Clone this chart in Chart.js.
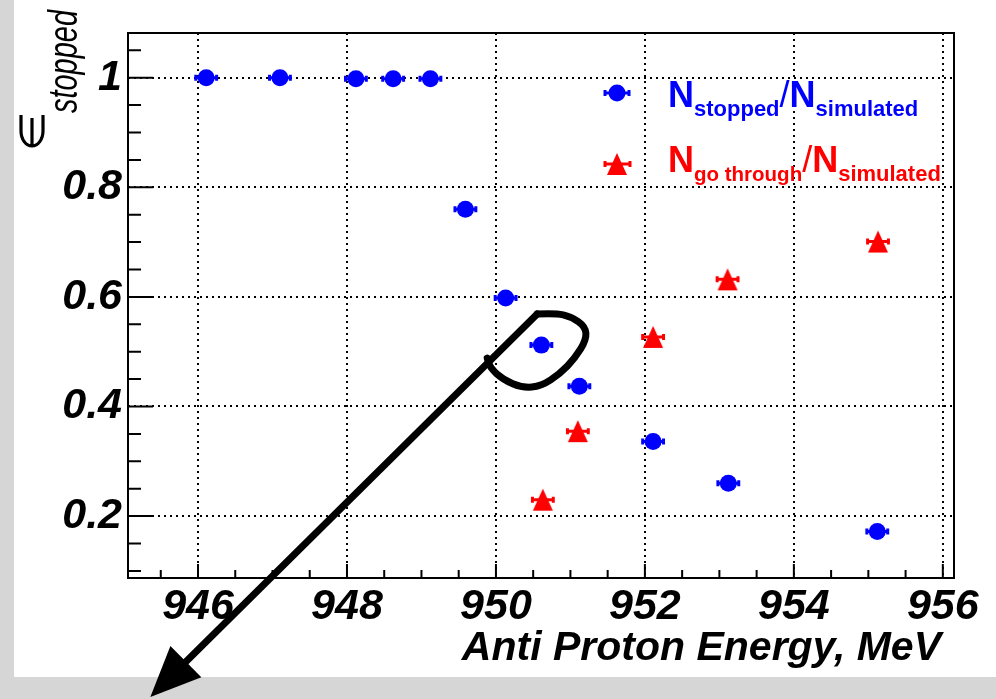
<!DOCTYPE html>
<html>
<head>
<meta charset="utf-8">
<script src="https://cdn.jsdelivr.net/npm/chart.js@4.4.1/dist/chart.umd.min.js"></script>
<style>
  html, body { margin: 0; padding: 0; background: #d6d6d6; }
  canvas { display: block; }
</style>
</head>
<body>
<canvas id="chart" width="996" height="699"></canvas>
<script>
// N_stopped / N_simulated
const energyStopped = [946.11, 947.10, 948.12, 948.62, 949.12, 949.59, 950.13, 950.61, 951.12, 952.11, 953.12, 955.12];
const fracStopped = [1.0, 1.0, 0.998, 0.998, 0.998, 0.760, 0.598, 0.512, 0.437, 0.336, 0.260, 0.172];
const errStopped = [0.14, 0.14, 0.14, 0.14, 0.14, 0.14, 0.14, 0.14, 0.14, 0.14, 0.14, 0.14];

// N_go through / N_simulated
const energyThrough = [950.63, 951.10, 952.11, 953.11, 955.13];
const fracThrough = [0.230, 0.355, 0.527, 0.632, 0.701];
const errThrough = [0.14, 0.14, 0.14, 0.14, 0.14];

const xTicks = [946, 948, 950, 952, 954, 956];
const yTicks = [0.2, 0.4, 0.6, 0.8, 1];
const yTickLabels = ['0.2', '0.4', '0.6', '0.8', '1'];

// hand drawn lasso + arrow, in data units
const loopX = [950.554, 950.796, 951.010, 951.200, 951.215, 951.060, 950.860, 950.610, 950.353, 950.098, 949.924, 949.883];
const loopY = [0.5688, 0.5706, 0.5640, 0.5460, 0.5220, 0.4880, 0.4600, 0.4370, 0.4340, 0.4490, 0.4703, 0.4883];
const arrowTail = [950.554, 0.5688];
const arrowTip = [945.36, -0.130];

const BLUE = '#0000ff';
const RED = '#ff0000';
const FONT = '"Liberation Sans", Arial, sans-serif';

function toPts(xs, ys) {
    return xs.map((x, i) => ({ x: x, y: ys[i] }));
}

// ROOT style full triangle marker
function makeTriangle(color) {
    const c = document.createElement('canvas');
    c.width = 22;
    c.height = 24;
    const g = c.getContext('2d');
    g.fillStyle = color;
    g.beginPath();
    g.moveTo(11, 1);
    g.lineTo(21, 23);
    g.lineTo(1, 23);
    g.closePath();
    g.fill();
    return c;
}
const redTriangle = makeTriangle(RED);

function drawXErrors(ctx, chart, xs, ys, errs, color) {
    const sx = chart.scales.x;
    const sy = chart.scales.y;
    ctx.save();
    ctx.strokeStyle = color;
    ctx.lineWidth = 3;
    xs.forEach((x, i) => {
        const y = sy.getPixelForValue(ys[i]);
        const x0 = sx.getPixelForValue(x - errs[i]);
        const x1 = sx.getPixelForValue(x + errs[i]);
        ctx.beginPath();
        ctx.moveTo(x0, y); ctx.lineTo(x1, y);
        ctx.moveTo(x0, y - 3); ctx.lineTo(x0, y + 3);
        ctx.moveTo(x1, y - 3); ctx.lineTo(x1, y + 3);
        ctx.stroke();
    });
    ctx.restore();
}

// draws a run of text pieces, each {t, font, dy}
function drawPieces(ctx, x, y, pieces, color) {
    ctx.fillStyle = color;
    ctx.textAlign = 'left';
    ctx.textBaseline = 'alphabetic';
    pieces.forEach(p => {
        ctx.font = p.font;
        ctx.fillText(p.t, x, y + (p.dy || 0));
        x += ctx.measureText(p.t).width;
    });
}

const framePlugin = {
    id: 'frame',
    beforeDraw(chart) {
        const ctx = chart.ctx;
        ctx.save();
        ctx.fillStyle = '#d6d6d6';
        ctx.fillRect(0, 0, chart.width, chart.height);
        ctx.fillStyle = '#ffffff';
        ctx.fillRect(14, 0, chart.width - 14, 677);
        ctx.restore();
    },
    beforeDatasetsDraw(chart) {
        const ctx = chart.ctx;
        const a = chart.chartArea;
        const sx = chart.scales.x;
        const sy = chart.scales.y;
        ctx.save();
        ctx.strokeStyle = '#000';
        ctx.lineWidth = 2;
        ctx.strokeRect(a.left, a.top, a.right - a.left, a.bottom - a.top);

        // ticks inside the frame
        ctx.beginPath();
        for (let v = Math.ceil(sx.min * 2) / 2; v <= sx.max; v += 0.5) {
            const px = sx.getPixelForValue(v);
            const len = Math.abs(v / 2 - Math.round(v / 2)) < 1e-6 ? 14 : 8;
            ctx.moveTo(px, a.bottom);
            ctx.lineTo(px, a.bottom - len);
        }
        for (let k = Math.ceil(sy.min * 20); k <= Math.floor(sy.max * 20); k++) {
            const py = sy.getPixelForValue(k / 20);
            const len = k % 4 === 0 ? 25 : 13;
            ctx.moveTo(a.left, py);
            ctx.lineTo(a.left + len, py);
        }
        ctx.stroke();
        ctx.restore();

        drawXErrors(ctx, chart, energyStopped, fracStopped, errStopped, BLUE);
        drawXErrors(ctx, chart, energyThrough, fracThrough, errThrough, RED);
    },
    afterDraw(chart) {
        const ctx = chart.ctx;
        const sx = chart.scales.x;
        const sy = chart.scales.y;
        ctx.save();

        // legend
        const big = 'bold 36px ' + FONT;
        const slash = '36px ' + FONT;
        const sub = 'bold 22px ' + FONT;
        const subSmall = 'bold 20.5px ' + FONT;
        ctx.lineWidth = 3;
        ctx.strokeStyle = BLUE;
        ctx.beginPath();
        ctx.moveTo(605, 93); ctx.lineTo(629, 93);
        ctx.moveTo(605, 90); ctx.lineTo(605, 96);
        ctx.moveTo(629, 90); ctx.lineTo(629, 96);
        ctx.stroke();
        ctx.fillStyle = BLUE;
        Chart.helpers.drawPoint(ctx, { pointStyle: 'circle', radius: 8.5, borderWidth: 0, rotation: 0 }, 617, 93);
        drawPieces(ctx, 668, 107, [
            { t: 'N', font: big },
            { t: 'stopped', font: sub, dy: 9 },
            { t: '/', font: slash },
            { t: 'N', font: big },
            { t: 'simulated', font: sub, dy: 9 }
        ], BLUE);

        ctx.strokeStyle = RED;
        ctx.beginPath();
        ctx.moveTo(605, 164); ctx.lineTo(630, 164);
        ctx.moveTo(605, 161); ctx.lineTo(605, 167);
        ctx.moveTo(630, 161); ctx.lineTo(630, 167);
        ctx.stroke();
        Chart.helpers.drawPoint(ctx, { pointStyle: redTriangle, radius: 11, borderWidth: 0, rotation: 0 }, 617, 164);
        drawPieces(ctx, 668, 172, [
            { t: 'N', font: big },
            { t: 'go through', font: subSmall, dy: 9 },
            { t: '/', font: slash },
            { t: 'N', font: big },
            { t: 'simulated', font: sub, dy: 9 }
        ], RED);

        // axis titles
        ctx.fillStyle = '#000';
        ctx.font = 'italic bold 41px ' + FONT;
        ctx.textAlign = 'right';
        ctx.textBaseline = 'alphabetic';
        ctx.fillText('Anti Proton Energy, MeV', 941, 660);

        ctx.save();
        ctx.rotate(-Math.PI / 2);
        // epsilon drawn as a lunate stroke (opens toward reading direction)
        ctx.strokeStyle = '#000';
        ctx.lineWidth = 3.2;
        ctx.lineCap = 'butt';
        ctx.beginPath();
        ctx.moveTo(-115, 21);
        ctx.lineTo(-131, 21);
        ctx.ellipse(-131, 32, 15, 11, 0, -Math.PI / 2, Math.PI / 2, true);
        ctx.lineTo(-115, 43);
        ctx.moveTo(-146, 32);
        ctx.lineTo(-118, 32);
        ctx.stroke();
        ctx.textAlign = 'left';
        ctx.font = 'italic 40px ' + FONT;
        const w = ctx.measureText('stopped').width;
        ctx.translate(-113, 77);
        ctx.scale(103 / w, 1);
        ctx.fillText('stopped', 0, 0);
        ctx.restore();

        // hand drawn lasso and arrow
        ctx.strokeStyle = '#000';
        ctx.fillStyle = '#000';
        ctx.lineWidth = 7;
        ctx.lineCap = 'round';
        ctx.lineJoin = 'round';
        const pts = loopX.map((x, i) => [sx.getPixelForValue(x), sy.getPixelForValue(loopY[i])]);
        const tail = [sx.getPixelForValue(arrowTail[0]), sy.getPixelForValue(arrowTail[1])];
        const tip = [sx.getPixelForValue(arrowTip[0]), sy.getPixelForValue(arrowTip[1])];
        ctx.beginPath();
        ctx.moveTo(pts[0][0], pts[0][1]);
        for (let i = 1; i < pts.length - 1; i++) {
            const mx = (pts[i][0] + pts[i + 1][0]) / 2;
            const my = (pts[i][1] + pts[i + 1][1]) / 2;
            ctx.quadraticCurveTo(pts[i][0], pts[i][1], mx, my);
        }
        ctx.lineTo(pts[pts.length - 1][0], pts[pts.length - 1][1]);
        ctx.stroke();

        const ang = Math.atan2(tip[1] - tail[1], tip[0] - tail[0]);
        const headLen = 50;
        const headHalf = 22;
        const bx = tip[0] - Math.cos(ang) * headLen;
        const by = tip[1] - Math.sin(ang) * headLen;
        ctx.beginPath();
        ctx.moveTo(tail[0], tail[1]);
        ctx.lineTo(bx, by);
        ctx.stroke();
        ctx.beginPath();
        ctx.moveTo(tip[0], tip[1]);
        ctx.lineTo(bx - Math.sin(ang) * headHalf, by + Math.cos(ang) * headHalf);
        ctx.lineTo(bx + Math.sin(ang) * headHalf, by - Math.cos(ang) * headHalf);
        ctx.closePath();
        ctx.fill();
        ctx.restore();
    }
};

const tickFont = { family: FONT, size: 43, weight: 'bold', style: 'italic' };

new Chart(document.getElementById('chart'), {
    type: 'scatter',
    data: {
        datasets: [
            {
                label: 'N stopped / N simulated',
                data: toPts(energyStopped, fracStopped),
                pointStyle: 'circle',
                pointRadius: 8.5,
                pointBorderWidth: 0,
                backgroundColor: BLUE,
                borderColor: BLUE
            },
            {
                label: 'N go through / N simulated',
                data: toPts(energyThrough, fracThrough),
                pointStyle: redTriangle,
                pointRadius: 11,
                pointBorderWidth: 0,
                backgroundColor: RED,
                borderColor: RED
            }
        ]
    },
    options: {
        responsive: false,
        animation: false,
        devicePixelRatio: 1,
        layout: { padding: { left: 0, top: 33, right: 42, bottom: 0 } },
        plugins: {
            legend: { display: false },
            tooltip: { enabled: false }
        },
        scales: {
            x: {
                type: 'linear',
                min: 945.06,
                max: 956.15,
                afterBuildTicks: s => { s.ticks = xTicks.map(v => ({ value: v })); },
                afterFit: s => { s.height = 121; },
                grid: { color: '#000', lineWidth: 2, drawTicks: false },
                border: { display: false, dash: [2, 4] },
                ticks: {
                    font: tickFont,
                    color: '#000',
                    padding: 3,
                    maxRotation: 0,
                    autoSkip: false,
                    callback: v => String(v)
                }
            },
            y: {
                type: 'linear',
                min: 0.087,
                max: 1.0816,
                afterBuildTicks: s => { s.ticks = yTicks.map(v => ({ value: v })); },
                afterFit: s => { s.width = 128; },
                grid: { color: '#000', lineWidth: 2, drawTicks: false },
                border: { display: false, dash: [2, 4] },
                ticks: {
                    font: tickFont,
                    color: '#000',
                    padding: 6,
                    autoSkip: false,
                    callback: (v, i) => yTickLabels[i]
                }
            }
        }
    },
    plugins: [framePlugin]
});
</script>
</body>
</html>
